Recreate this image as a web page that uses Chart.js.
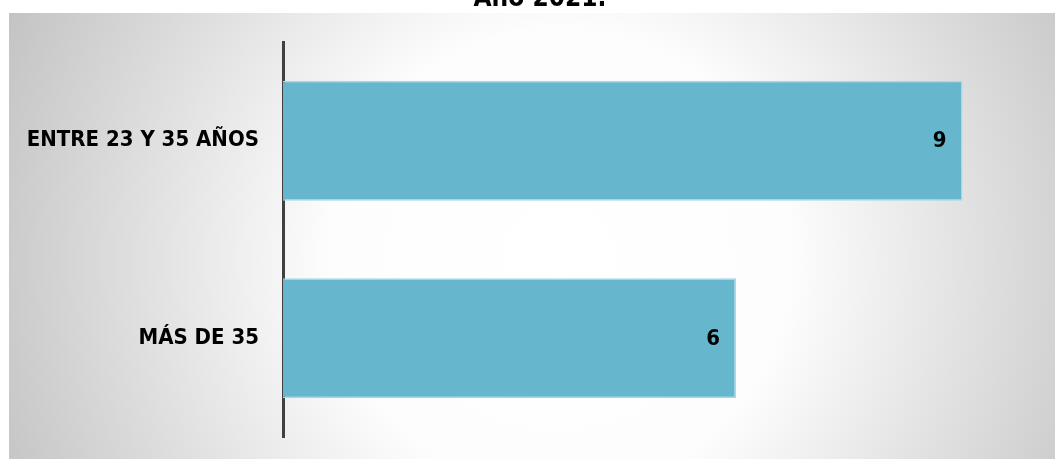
<!DOCTYPE html>
<html>
<head>
<meta charset="utf-8">
<script src="https://cdn.jsdelivr.net/npm/chart.js@4.4.1/dist/chart.umd.min.js"></script>
<style>
  html, body { margin: 0; padding: 0; width: 1055px; height: 459px; overflow: hidden; background: #ffffff; }
  #bg {
    position: absolute; left: 9px; top: 13px; width: 1046px; height: 446px;
    background: radial-gradient(circle 600px at 551px 247px, #ffffff 0px, #fdfdfd 230px, #c4c4c4 600px);
  }
  #wrap { position: absolute; left: 0; top: 0; width: 1055px; height: 459px; }
</style>
</head>
<body>
<div id="bg"></div>
<div id="wrap"><canvas id="c" width="1055" height="459"></canvas></div>
<script>
const chartTitle = "Año 2021.";
const categories = ["ENTRE 23 Y 35 AÑOS", "MÁS DE 35"];
const values = [9, 6];
const axisMin = 0;
const axisMax = 10;

const FONT_FAMILY = "'DejaVu Sans Condensed', 'DejaVu Sans', sans-serif";

const titlePlugin = {
  id: 'customTitle',
  afterDraw(chart) {
    const ctx = chart.ctx;
    ctx.save();
    ctx.font = "bold 26px " + FONT_FAMILY;
    ctx.fillStyle = '#000000';
    ctx.textAlign = 'center';
    ctx.textBaseline = 'alphabetic';
    ctx.fillText(chartTitle, 540, 6);
    ctx.restore();
  }
};

const valueLabels = {
  id: 'valueLabels',
  afterDatasetsDraw(chart) {
    const ctx = chart.ctx;
    ctx.save();
    ctx.font = "bold 22px " + FONT_FAMILY;
    ctx.fillStyle = '#000000';
    ctx.textAlign = 'right';
    ctx.textBaseline = 'middle';
    chart.data.datasets.forEach((ds, di) => {
      const meta = chart.getDatasetMeta(di);
      meta.data.forEach((bar, i) => {
        ctx.fillText(String(ds.data[i]), bar.x - 16, bar.y + 1);
      });
    });
    ctx.restore();
  }
};

new Chart(document.getElementById('c'), {
  type: 'bar',
  data: {
    labels: categories,
    datasets: [{
      data: values,
      backgroundColor: '#66b7ce',
      borderColor: '#a9d7e5',
      borderWidth: 1.5,
      borderSkipped: 'start',
      barPercentage: 0.607,
      categoryPercentage: 1.0
    }]
  },
  options: {
    indexAxis: 'y',
    responsive: false,
    animation: false,
    devicePixelRatio: 1,
    layout: { padding: { top: 42, bottom: 22, left: 0, right: 17 } },
    plugins: {
      legend: { display: false },
      title: { display: false },
      tooltip: { enabled: false }
    },
    scales: {
      x: {
        display: false,
        min: axisMin,
        max: axisMax
      },
      y: {
        grid: { display: false, drawTicks: false },
        border: { display: true, color: '#404040', width: 3 },
        ticks: {
          color: '#000000',
          padding: 24,
          font: { family: FONT_FAMILY, size: 22, weight: 'bold' }
        },
        afterFit(scale) {
          scale.width = 283;
          scale.paddingTop = 0;
          scale.paddingBottom = 0;
        }
      }
    }
  },
  plugins: [titlePlugin, valueLabels]
});
</script>
</body>
</html>
